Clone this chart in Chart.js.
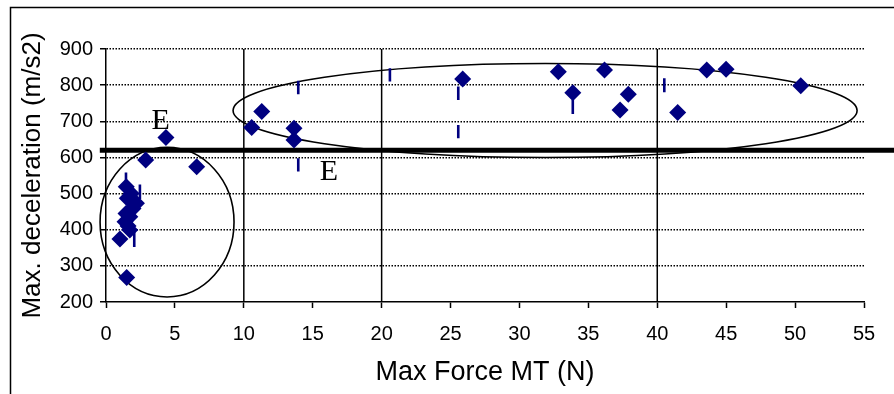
<!DOCTYPE html>
<html>
<head>
<meta charset="utf-8">
<script src="https://cdn.jsdelivr.net/npm/chart.js@4.4.1/dist/chart.umd.min.js"></script>
<style>
  html, body { margin: 0; padding: 0; background: #fff; }
  canvas { display: block; }
</style>
</head>
<body>
<canvas id="chart" width="894" height="394"></canvas>
<script>
// measured points (Max Force MT in N, Max. deceleration in m/s2)
const forceX = [1.01, 1.50, 2.88, 4.35, 6.58, 10.57, 11.30,
  1.47, 1.54, 2.21, 1.45, 1.38, 1.73, 1.73, 1.83, 1.96, 1.60, 1.90,
  13.64, 13.64, 25.88, 32.82, 33.87, 36.17, 37.90, 37.30, 41.48, 43.59, 44.99, 50.41];
const decelY = [374, 268, 593, 655, 574, 683, 727,
  519, 487, 473, 445, 422, 436, 399, 500, 459, 410, 480,
  681, 648, 817, 837, 779, 842, 775, 731, 724, 842, 844, 798];

// short vertical dash marks: x, top, bottom
const dashX = [1.45, 2.46, 2.05, 13.95, 13.95, 20.6, 25.56, 25.56, 33.87, 40.51];
const dashTop = [558, 525, 395, 812, 598, 847, 796, 690, 759, 819];
const dashBottom = [518, 485, 352, 775, 561, 810, 759, 653, 720, 780];

// solid vertical separators and the 620 m/s2 threshold
const dividerX = [10, 20, 40];
const thresholdY = 620;

// ellipses around groups: centre x, centre y, radius x, radius y (data units)
const ellipses = [
  { cx: 4.43, cy: 421, rx: 4.86, ry: 207 },
  { cx: 31.86, cy: 730, rx: 22.64, ry: 130 }
];

// "E" labels
const labelText = ['E', 'E'];
const labelX = [3.96, 16.18];
const labelY = [700, 559];

const points = forceX.map((x, i) => ({ x: x, y: decelY[i] }));

const dashData = [];
dashX.forEach((x, i) => {
  dashData.push({ x: x, y: dashTop[i] }, { x: x, y: dashBottom[i] }, { x: x, y: null });
});

const dividerData = [];
dividerX.forEach(x => {
  dividerData.push({ x: x, y: 200 }, { x: x, y: 900 }, { x: x, y: null });
});

const navy = '#000080';

const extras = {
  id: 'extras',
  beforeDraw(chart) {
    const ctx = chart.ctx;
    ctx.save();
    ctx.strokeStyle = '#000';
    ctx.lineWidth = 1.5;
    ctx.beginPath();
    ctx.moveTo(10.5, chart.height);
    ctx.lineTo(10.5, 7.5);
    ctx.lineTo(chart.width, 7.5);
    ctx.stroke();
    ctx.restore();
  },
  beforeDatasetsDraw(chart) {
    const ctx = chart.ctx;
    const xs = chart.scales.x, ys = chart.scales.y;
    ctx.save();
    ctx.strokeStyle = '#000';
    ctx.lineWidth = 1.6;
    ellipses.forEach(e => {
      const cx = xs.getPixelForValue(e.cx);
      const cy = ys.getPixelForValue(e.cy);
      const rx = xs.getPixelForValue(e.cx + e.rx) - cx;
      const ry = cy - ys.getPixelForValue(e.cy + e.ry);
      ctx.beginPath();
      ctx.ellipse(cx, cy, rx, ry, 0, 0, Math.PI * 2);
      ctx.stroke();
    });
    ctx.fillStyle = '#000';
    ctx.font = '30px "Liberation Serif", "Times New Roman", serif';
    ctx.textAlign = 'center';
    ctx.textBaseline = 'middle';
    labelText.forEach((t, i) => {
      ctx.fillText(t, xs.getPixelForValue(labelX[i]), ys.getPixelForValue(labelY[i]));
    });
    ctx.restore();
  }
};

const tickFont = { family: '"Liberation Sans", Arial, sans-serif', size: 20 };

new Chart(document.getElementById('chart').getContext('2d'), {
  type: 'scatter',
  data: {
    datasets: [
      {
        data: points,
        pointStyle: 'rectRot',
        pointRadius: 8.5,
        backgroundColor: navy,
        borderColor: navy,
        borderWidth: 0,
        showLine: false,
        order: 0
      },
      {
        data: dashData,
        showLine: true,
        spanGaps: false,
        borderColor: navy,
        borderWidth: 2.6,
        pointRadius: 0,
        order: 1
      },
      {
        data: dividerData,
        showLine: true,
        spanGaps: false,
        borderColor: '#000',
        borderWidth: 1.5,
        pointRadius: 0,
        order: 2
      },
      {
        data: [{ x: -0.45, y: thresholdY }, { x: 57.2, y: thresholdY }],
        showLine: true,
        borderColor: '#000',
        borderWidth: 5,
        pointRadius: 0,
        clip: false,
        order: 3
      }
    ]
  },
  options: {
    responsive: false,
    animation: false,
    layout: { padding: { left: 0, top: 49, right: 30, bottom: 0 } },
    plugins: { legend: { display: false }, tooltip: { enabled: false } },
    scales: {
      x: {
        type: 'linear',
        min: 0,
        max: 55,
        ticks: { stepSize: 5, color: '#000', font: tickFont, padding: 14, maxRotation: 0 },
        grid: { drawOnChartArea: false, tickLength: 6, tickColor: '#000', tickWidth: 1.5 },
        border: { color: '#000', width: 1.5 },
        title: {
          display: true,
          text: 'Max Force MT (N)',
          color: '#000',
          font: { family: '"Liberation Sans", Arial, sans-serif', size: 27 },
          padding: { top: 0, bottom: 5 }
        },
        afterFit(scale) { scale.height = 92; }
      },
      y: {
        min: 200,
        max: 900,
        ticks: { stepSize: 100, color: '#000', font: tickFont, padding: 7 },
        grid: {
          color: c => (c.tick && c.tick.value === 200 ? 'rgba(0,0,0,0)' : '#000'),
          lineWidth: 1.5,
          tickLength: 6,
          tickColor: '#000',
          tickWidth: 1.5
        },
        border: { color: '#000', width: 1.5, dash: [1.5, 1.5] },
        title: {
          display: true,
          text: 'Max. deceleration (m/s2)',
          color: '#000',
          font: { family: '"Liberation Sans", Arial, sans-serif', size: 26 },
          padding: { top: 17, bottom: 0 }
        },
        afterFit(scale) { scale.width = 106; }
      }
    }
  },
  plugins: [extras]
});
</script>
</body>
</html>
